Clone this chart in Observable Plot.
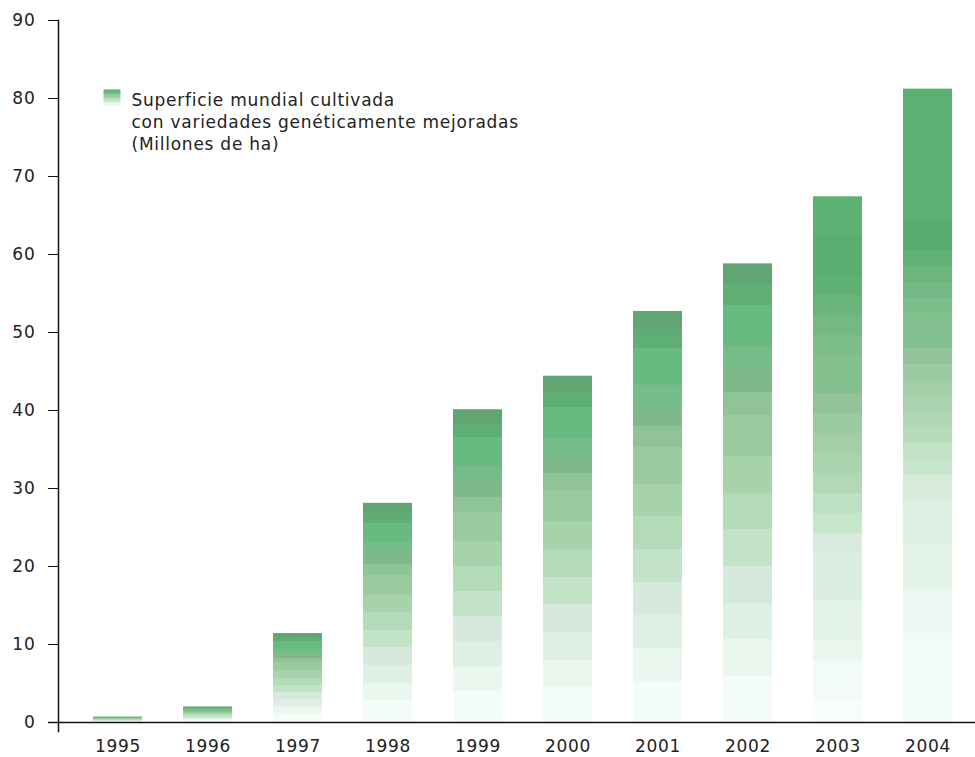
<!DOCTYPE html>
<html>
<head>
<meta charset="utf-8">
<script src="https://cdn.jsdelivr.net/npm/d3@7"></script>
<script src="https://cdn.jsdelivr.net/npm/@observablehq/plot@0.6"></script>
<style>
  html, body { margin: 0; padding: 0; background: #fff; }
  svg { display: block; }
</style>
</head>
<body>
<div id="chart"></div>
<script>
const years = ["1995","1996","1997","1998","1999","2000","2001","2002","2003","2004"];
const hectares = [0.7, 2.0, 11.4, 28.1, 40.1, 44.4, 52.7, 58.8, 67.4, 81.2];
const yTicks = [0, 10, 20, 30, 40, 50, 60, 70, 80, 90];
const legendLabel = ["Superficie mundial cultivada\ncon variedades genéticamente mejoradas\n(Millones de ha)"];

// stepped gradient bands (fraction from bar top, fraction end, colour)
const gradMain = [
  [0.00, 0.045, "#63a474"],
  [0.045, 0.09, "#5fae74"],
  [0.09, 0.18, "#68bb80"],
  [0.18, 0.23, "#74bd88"],
  [0.23, 0.28, "#7fb98a"],
  [0.28, 0.33, "#90c397"],
  [0.33, 0.42, "#9acb9f"],
  [0.42, 0.50, "#a6d3aa"],
  [0.50, 0.58, "#b3dbb8"],
  [0.58, 0.66, "#c2e3c8"],
  [0.66, 0.74, "#d5eadd"],
  [0.74, 0.82, "#ddf0e3"],
  [0.82, 0.90, "#e9f7ee"],
  [0.90, 1.00, "#f3fcf9"]
];
const grad2003 = [
  [0.00, 0.074, "#5db273"],
  [0.074, 0.15, "#5aae6f"],
  [0.15, 0.188, "#60b073"],
  [0.188, 0.226, "#6ab57b"],
  [0.226, 0.264, "#74b984"],
  [0.264, 0.302, "#7dbd89"],
  [0.302, 0.375, "#82c08e"],
  [0.375, 0.413, "#93c499"],
  [0.413, 0.451, "#9bcaa0"],
  [0.451, 0.489, "#a3cfa7"],
  [0.489, 0.527, "#aad4ae"],
  [0.527, 0.565, "#b2d8b6"],
  [0.565, 0.603, "#bde0c2"],
  [0.603, 0.641, "#c6e6cc"],
  [0.641, 0.679, "#d7eadc"],
  [0.679, 0.768, "#dbeee1"],
  [0.768, 0.844, "#e2f2e7"],
  [0.844, 0.882, "#eaf7ef"],
  [0.882, 0.958, "#f2fbf7"],
  [0.958, 1.00, "#f6fdfb"]
];
const grad2004 = [
  [0.00, 0.205, "#5bb173"],
  [0.205, 0.255, "#58ae6e"],
  [0.255, 0.28, "#62b275"],
  [0.28, 0.305, "#6cb67c"],
  [0.305, 0.33, "#74b985"],
  [0.33, 0.355, "#7dbd8a"],
  [0.355, 0.41, "#83c090"],
  [0.41, 0.435, "#94c39a"],
  [0.435, 0.46, "#9ccaa0"],
  [0.46, 0.485, "#a2cfa7"],
  [0.485, 0.51, "#a8d3ac"],
  [0.51, 0.535, "#b0d7b4"],
  [0.535, 0.56, "#b7dbbb"],
  [0.56, 0.585, "#c3e3c9"],
  [0.585, 0.61, "#c6e6cc"],
  [0.61, 0.65, "#d7eadc"],
  [0.65, 0.72, "#dcefe2"],
  [0.72, 0.79, "#e3f3e8"],
  [0.79, 0.86, "#ebf7f0"],
  [0.86, 0.93, "#f1fbf7"],
  [0.93, 1.00, "#f5fdfb"]
];
const barGradient = {"2003": "url(#grad2003)", "2004": "url(#grad2004)"};

const data = years.map((y, i) => ({year: y, value: hectares[i]}));
const font = "'DejaVu Sans', Verdana, sans-serif";

const chart = Plot.plot({
  width: 975,
  height: 757,
  marginTop: 20,
  marginBottom: 35,
  marginLeft: 58,
  marginRight: 0,
  style: {fontFamily: font, fontSize: "17px", color: "#222", background: "#fff", letterSpacing: "0.75px"},
  x: {domain: years, paddingInner: 0.4556, paddingOuter: 0.3222, align: 0.603, label: null},
  y: {domain: [0, 90], label: null},
  marks: [
    Plot.barY(data, {x: "year", y: "value", fill: d => barGradient[d.year] || "url(#gradMain)"}),
    Plot.axisY({ticks: yTicks, tickSize: 10, tickPadding: 13, fontSize: 17, stroke: "#111", fill: "#222", label: null}),
    Plot.axisX({tickSize: 0, tickPadding: 17, fontSize: 17, fill: "#222", label: null}),
    Plot.frame({anchor: "left", stroke: "#111", strokeWidth: 1.5, insetBottom: -9}),
    Plot.ruleY([0], {stroke: "#111", strokeWidth: 1.5, insetLeft: -10}),
    Plot.dot([0], {frameAnchor: "top-left", dx: 53.5, dy: 77.5, symbol: "square", r: 9.6, fill: "url(#gradMain)", stroke: null}),
    Plot.text(legendLabel, {frameAnchor: "top-left", dx: 73, dy: 70, textAnchor: "start", lineAnchor: "top", lineHeight: 1.3, fontSize: 17, fill: "#222", text: d => d})
  ]
});

const svg = d3.select(chart);
const defs = svg.insert("defs", ":first-child");
[["gradMain", gradMain], ["grad2003", grad2003], ["grad2004", grad2004]].forEach(([id, bands]) => {
  const grad = defs.append("linearGradient")
    .attr("id", id)
    .attr("x1", 0).attr("y1", 0).attr("x2", 0).attr("y2", 1);
  bands.forEach(([a, b, c]) => {
    grad.append("stop").attr("offset", a).attr("stop-color", c);
    grad.append("stop").attr("offset", b).attr("stop-color", c);
  });
});

document.getElementById("chart").appendChild(chart);
</script>
</body>
</html>
